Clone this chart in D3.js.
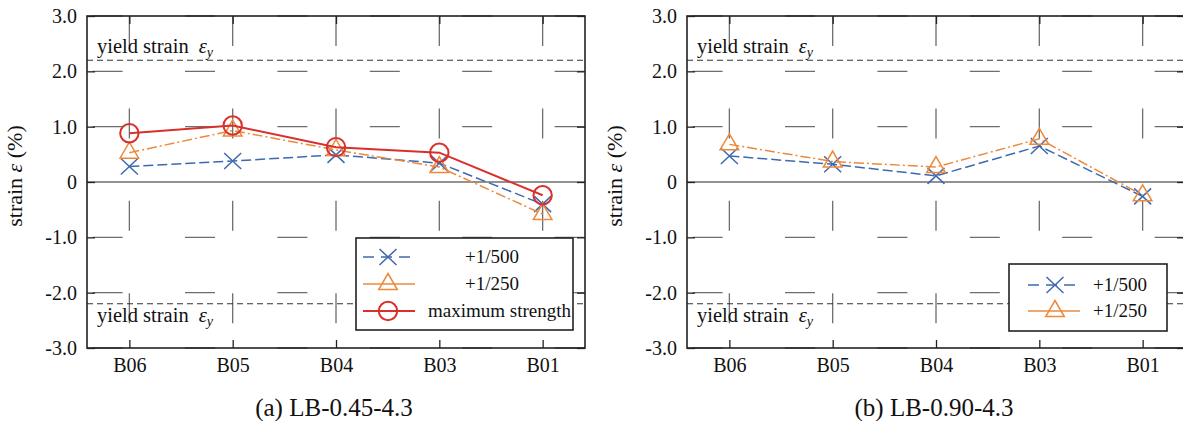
<!DOCTYPE html>
<html lang="en">
  <head>
    <meta charset="utf-8">
    <style>
      body { margin: 0; background: #fff; }
      svg text { font-family: "Liberation Serif", "Times New Roman", serif; fill: #111; }
    </style>
  </head>
  <body>
    <script type="text/javascript" src="https://d3js.org/d3.v7.min.js"></script>
    <script>
      var width = 1183,
        height = 421;

      // data
      var categories = ["B06", "B05", "B04", "B03", "B01"];
      var yTicks = [-3, -2, -1, 0, 1, 2, 3];
      var yTickLabels = ["-3.0", "-2.0", "-1.0", "0", "1.0", "2.0", "3.0"];
      var yieldStrain = 2.2;
      var a500 = [0.28, 0.38, 0.49, 0.34, -0.4];
      var a250 = [0.53, 0.93, 0.58, 0.27, -0.58];
      var aMax = [0.88, 1.02, 0.63, 0.53, -0.24];
      var b500 = [0.47, 0.32, 0.11, 0.65, -0.26];
      var b250 = [0.68, 0.37, 0.27, 0.78, -0.24];

      var blue = "#3e69b0",
        orange = "#ec8a3a",
        red = "#d8302c";

      var seriesStyle = {
        s500: { label: "+1/500", color: blue, dash: "10,4", width: 1.5, marker: "x", legendDash: "11,7" },
        s250: { label: "+1/250", color: orange, dash: "10,3,2,3", width: 1.5, marker: "tri", legendDash: null },
        smax: { label: "maximum strength", color: red, dash: null, width: 2, marker: "circle", legendDash: null }
      };

      var panels = [
        {
          x0: 87, title: "(a) LB-0.45-4.3",
          series: [["s500", a500], ["s250", a250], ["smax", aMax]],
          legend: { x: 356, y: 238, w: 217, h: 92, symX: 388, lineX0: 363, lineX1: 415, rows: [257, 284, 311], textX: [465, 465, 428] }
        },
        {
          x0: 687, title: "(b) LB-0.90-4.3",
          series: [["s500", b500], ["s250", b250]],
          legend: { x: 1009, y: 264, w: 158, h: 67, symX: 1055, lineX0: 1028, lineX1: 1080, rows: [285, 311], textX: [1093, 1093] }
        }
      ];

      var plotW = 498, plotTop = 16, plotH = 332;

      var svg = d3.select("body")
        .append("svg")
        .attr("width", width)
        .attr("height", height);

      function drawMarker(g, type, x, y, color) {
        if (type === "x") {
          g.append("path")
            .attr("d", "M" + (x - 8.5) + "," + (y - 8) + "L" + (x + 8.5) + "," + (y + 8) +
              "M" + (x - 8.5) + "," + (y + 8) + "L" + (x + 8.5) + "," + (y - 8))
            .attr("stroke", color).attr("stroke-width", 1.5).attr("fill", "none");
        } else if (type === "tri") {
          g.append("path")
            .attr("d", "M" + x + "," + (y - 10.5) + "L" + (x + 9.3) + "," + (y + 5.5) + "L" + (x - 9.3) + "," + (y + 5.5) + "Z")
            .attr("stroke", color).attr("stroke-width", 1.5).attr("fill", "none");
        } else {
          g.append("circle")
            .attr("cx", x).attr("cy", y).attr("r", 9.2)
            .attr("stroke", color).attr("stroke-width", 2).attr("fill", "none");
        }
      }

      function yieldLabel(g, x, y) {
        var t = g.append("text").attr("x", x).attr("y", y).attr("font-size", 20.5);
        t.append("tspan").text("yield strain");
        t.append("tspan").attr("dx", 10).attr("font-style", "italic").text("ε");
        t.append("tspan").attr("dy", 4).attr("font-size", 14).attr("font-style", "italic").text("y");
      }

      panels.forEach(function (p) {
        var x = d3.scalePoint().domain(categories).range([p.x0, p.x0 + plotW]).padding(0.41);
        var y = d3.scaleLinear().domain([-3, 3]).range([plotTop + plotH, plotTop]);
        var g = svg.append("g");

        // dashed grid
        g.selectAll(".vgrid").data(categories).join("line")
          .attr("x1", function (d) { return x(d); })
          .attr("x2", function (d) { return x(d); })
          .attr("y1", plotTop).attr("y2", plotTop + plotH)
          .attr("stroke", "#6e6e6e").attr("stroke-width", 1.3)
          .attr("stroke-dasharray", "30,62.4");
        g.selectAll(".hgrid").data(yTicks.filter(function (d) { return d !== 0; })).join("line")
          .attr("x1", p.x0).attr("x2", p.x0 + plotW)
          .attr("y1", function (d) { return y(d); })
          .attr("y2", function (d) { return y(d); })
          .attr("stroke", "#6e6e6e").attr("stroke-width", 1.3)
          .attr("stroke-dasharray", "30,62.4").attr("stroke-dashoffset", 86.8);
        // zero line
        g.append("line")
          .attr("x1", p.x0).attr("x2", p.x0 + plotW)
          .attr("y1", y(0)).attr("y2", y(0))
          .attr("stroke", "#6e6e6e").attr("stroke-width", 1.5);

        // yield strain lines
        [yieldStrain, -yieldStrain].forEach(function (v) {
          g.append("line")
            .attr("x1", p.x0).attr("x2", p.x0 + plotW)
            .attr("y1", y(v)).attr("y2", y(v))
            .attr("stroke", "#333").attr("stroke-width", 1.1)
            .attr("stroke-dasharray", "6,4");
        });
        yieldLabel(g, p.x0 + 10, y(yieldStrain) - 7);
        yieldLabel(g, p.x0 + 10, y(-yieldStrain) + 18);

        // series
        var line = d3.line()
          .x(function (d, i) { return x(categories[i]); })
          .y(function (d) { return y(d); });
        p.series.forEach(function (s) {
          var st = seriesStyle[s[0]];
          g.append("path")
            .datum(s[1])
            .attr("d", line)
            .attr("fill", "none")
            .attr("stroke", st.color)
            .attr("stroke-width", st.width)
            .attr("stroke-dasharray", st.dash);
          s[1].forEach(function (v, i) {
            drawMarker(g, st.marker, x(categories[i]), y(v), st.color);
          });
        });

        // axes
        var yAxis = d3.axisLeft(y).tickValues(yTicks).tickSize(-8).tickPadding(10)
          .tickFormat(function (d, i) { return yTickLabels[i]; });
        var ga = g.append("g").attr("transform", "translate(" + p.x0 + ",0)").call(yAxis);
        ga.select(".domain").remove();
        ga.selectAll("text").attr("font-size", 20).attr("font-family", "Liberation Serif").attr("fill", "#111");
        ga.selectAll("line").attr("stroke", "#222").attr("stroke-width", 1.3);

        var gr = g.append("g").attr("transform", "translate(" + (p.x0 + plotW) + ",0)")
          .call(d3.axisRight(y).tickValues(yTicks).tickSize(-8).tickFormat(""));
        gr.select(".domain").remove();
        gr.selectAll("line").attr("stroke", "#222").attr("stroke-width", 1.3);

        var xAxis = d3.axisBottom(x).tickSize(-8).tickPadding(10);
        var gb = g.append("g").attr("transform", "translate(0," + (plotTop + plotH) + ")").call(xAxis);
        gb.select(".domain").remove();
        gb.selectAll("text").attr("font-size", 20).attr("font-family", "Liberation Serif").attr("fill", "#111");
        gb.selectAll("line").attr("stroke", "#222").attr("stroke-width", 1.3);

        var gt = g.append("g").attr("transform", "translate(0," + plotTop + ")")
          .call(d3.axisTop(x).tickSize(-8).tickFormat(""));
        gt.select(".domain").remove();
        gt.selectAll("line").attr("stroke", "#222").attr("stroke-width", 1.3);

        // frame
        g.append("rect")
          .attr("x", p.x0).attr("y", plotTop).attr("width", plotW).attr("height", plotH)
          .attr("fill", "none").attr("stroke", "#222").attr("stroke-width", 1.6);

        // y label
        var yl = g.append("text")
          .attr("transform", "translate(" + (p.x0 - 65) + "," + (plotTop + plotH / 2 - 6) + ") rotate(-90)")
          .attr("text-anchor", "middle").attr("font-size", 22);
        yl.append("tspan").text("strain ");
        yl.append("tspan").attr("font-style", "italic").text("ε");
        yl.append("tspan").text(" (%)");

        // title
        g.append("text")
          .attr("x", p.x0 + plotW / 2 - 2).attr("y", 416)
          .attr("text-anchor", "middle").attr("font-size", 25)
          .text(p.title);

        // legend
        var L = p.legend;
        var lg = g.append("g");
        lg.append("rect")
          .attr("x", L.x).attr("y", L.y).attr("width", L.w).attr("height", L.h)
          .attr("fill", "#fff").attr("stroke", "#222").attr("stroke-width", 1.6);
        p.series.forEach(function (s, i) {
          var st = seriesStyle[s[0]];
          var ry = L.rows[i];
          lg.append("line")
            .attr("x1", L.lineX0).attr("x2", L.lineX1)
            .attr("y1", ry).attr("y2", ry)
            .attr("stroke", st.color).attr("stroke-width", st.width)
            .attr("stroke-dasharray", st.legendDash);
          drawMarker(lg, st.marker, L.symX, ry, st.color);
          lg.append("text")
            .attr("x", L.textX[i]).attr("y", ry + 6)
            .attr("font-size", 19)
            .text(st.label);
        });
      });
    </script>
  </body>
</html>
